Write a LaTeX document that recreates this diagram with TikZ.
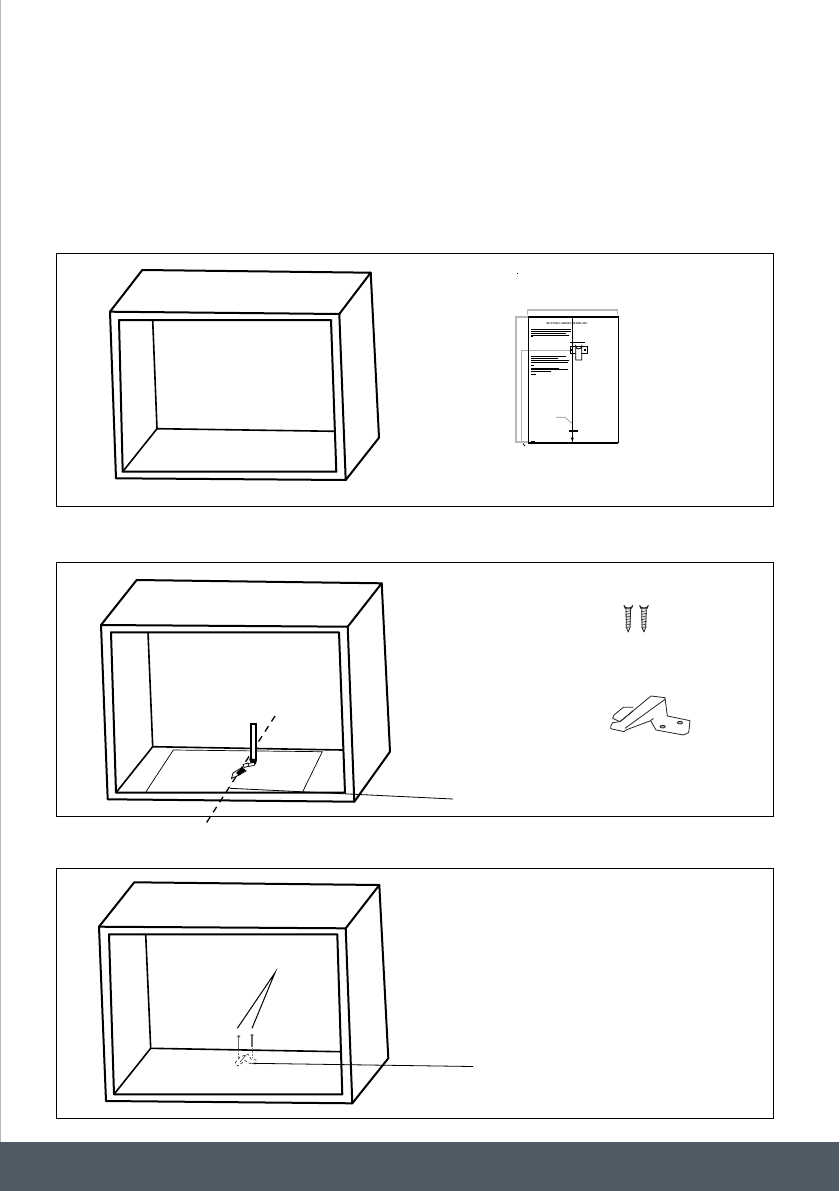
\documentclass[tikz,border=0pt]{standalone}
\usepackage{fontspec}
\setmainfont{Liberation Serif}
\tikzset{
  frame/.style={draw=black,line width=1pt},
  cabline/.style={draw=black,line width=2pt,line join=round,line cap=round},
  cabthin/.style={draw=black,line width=1.6pt,line cap=round},
  thinline/.style={draw=black,line width=.7pt},
  leader/.style={draw=black,line width=.8pt},
  axisline/.style={draw=black,line width=1.3pt,dash pattern=on 6.5pt off 5.5pt},
  greek/.style={draw=black,line width=.75pt,dash pattern=on 1.6pt off .4pt},
  dimgray/.style={draw=black!28,line width=2pt},
  dimthin/.style={draw=black!30,line width=1pt},
  tplate/.style={draw=black,line width=1.1pt},
  part/.style={draw=black!85,line width=.8pt,line join=round},
}
\newcommand{\cabdraw}[1]{%
  \draw[cabline] (#1otl) -- (#1otr) -- (#1obr) -- (#1obl) -- cycle;
  \draw[cabline] (#1otl) -- (#1btl) -- (#1btr) -- (#1otr);
  \draw[cabline] (#1btr) -- (#1bbr) -- (#1obr);
  \draw[cabline] (#1itl) -- (#1itr) -- (#1ibr) -- (#1ibl) -- cycle;
  \draw[cabthin] (#1ibl) -- (#1wbl) -- (#1wtl);
  \draw[cabthin] (#1wbl) -- (#1wbr);
}
\begin{document}
\begin{tikzpicture}[x=1pt,y=-1pt]
\useasboundingbox (0,0) rectangle (839,1191);
\fill[black!28] (0,0) rectangle (1.2,1142);
\fill[white] (1.2,0) rectangle (839,1142);
\fill[fill={rgb,255:red,80;green,91;blue,102}] (0,1142) rectangle (839,1191);

\draw[frame] (56,253) rectangle (773,506);
\draw[frame] (56,562) rectangle (773,816);
\draw[frame] (56,868) rectangle (773,1118);

% ---------- cabinet A
\coordinate (aotl) at (110,311.7); \coordinate (aotr) at (339.3,314);
\coordinate (aobr) at (345.7,480); \coordinate (aobl) at (116,478.3);
\coordinate (abtl) at (142.3,270); \coordinate (abtr) at (370.7,272.7);
\coordinate (abbr) at (379,437.7);
\coordinate (aitl) at (119,320);   \coordinate (aitr) at (331,320);
\coordinate (aibr) at (336.3,471.7); \coordinate (aibl) at (122.7,471.7);
\coordinate (awtl) at (152.7,320); \coordinate (awbl) at (157,428.7);
\coordinate (awbr) at (335,431.3);
\cabdraw{a}

% ---------- template sheet
\fill[black] (517,272.5) rectangle (517.8,274);
\draw[dimgray,line width=1.3pt] (527.3,315) -- (527.3,310) -- (617.3,310) -- (617.3,315);
\draw[dimgray] (528,316.7) -- (516.3,316.7) -- (516.3,442.3) -- (528,442.3);
\draw[dimthin] (570,350) -- (521.7,350) -- (521.7,442);
\draw[dimthin] (556,417.3) -- (565,417.3) -- (571.7,423.3);
\draw[tplate] (528.3,316.7) rectangle (618.3,442.7);
\draw[tplate,line width=1.7pt] (528.3,316.7) -- (618.3,316.7);
\draw[tplate,line width=1.7pt] (528.3,442.7) -- (618.3,442.7);
\draw[tplate] (572.3,316.7) -- (572.3,442.7);
\node[inner sep=0pt,font=\fontsize{2.7}{3}\selectfont\bfseries] (tptitle) at (567,323.5) {BOTTOM CABINET TEMPLATE};
\foreach \yy/\xe in {329.5/570.5,331.3/570.5,333/566,335/569,336.8/533}
  \draw[greek] (531,\yy) -- (\xe,\yy);
\foreach \yy/\xe in {356.8/566,358.6/558,360.4/569,362.2/568,365/534,368/559,369.8/568,371.6/551,374.5/536}
  \draw[greek] (531,\yy) -- (\xe,\yy);
\draw[draw=black,line width=.7pt] (570,342.3) -- (585,342.3);
\draw[draw=black,line width=.8pt] (570,346.7) rectangle (587.3,353.3);
\draw[draw=black,line width=.8pt,fill=white] (575.7,360) -- (575.7,346) arc[start angle=180,end angle=0,radius=3] -- (581.7,360) -- cycle;
\fill[black] (571,349) rectangle (573,351); \fill[black] (584,349) rectangle (586,351);
\draw[draw=black,line width=1.1pt,dash pattern=on 1.5pt off .4pt] (568.5,431) -- (578,431);
\fill[black] (570.6,437.5) -- (574,437.5) -- (572.3,441) -- cycle;
\draw[draw=black,line width=.8pt] (531,441) -- (535,441);
\draw[draw=black,line width=.8pt] (523,443.7) -- (525,446);

% ---------- cabinet B
\coordinate (botl) at (101,625);   \coordinate (botr) at (347.7,626.7);
\coordinate (bobr) at (354.3,801.7); \coordinate (bobl) at (107.7,799.3);
\coordinate (bbtl) at (136.7,580); \coordinate (bbtr) at (381.7,583.3);
\coordinate (bbbr) at (390,751.7);
\coordinate (bitl) at (111,632.3); \coordinate (bitr) at (339,632.3);
\coordinate (bibr) at (345,792.7); \coordinate (bibl) at (116,792.7);
\coordinate (bwtl) at (148,632.3); \coordinate (bwbl) at (152.7,746.7);
\coordinate (bwbr) at (342.3,750);
% template on floor
\coordinate (fa) at (173.3,750); \coordinate (fb) at (146,791.7);
\coordinate (fc) at (322.3,751.7); \coordinate (fd) at (302.7,791.7);
\draw[thinline] (fb) -- (fa) -- (fc) -- (fd);
\cabdraw{b}
% centre axis
\coordinate (axa) at (275,716); \coordinate (axb) at (205,825);
\draw[axisline] (axa) -- (axb);
% leader
\coordinate (lbs) at (230,788.3); \coordinate (lbe) at (453,799);
\draw[leader] (lbs) -- (lbe);
% marks on axis
\draw[draw=black,line width=2pt,fill=white] (251,724) rectangle (256,760);
\fill[black] (249,758.5) -- (257,759) -- (256,764) -- (251,764) -- cycle;
\draw[draw=black,line width=.7pt,fill=white] (243,764.5) -- (248,763) -- (249,766) -- (244,767.5) -- cycle;
\draw[draw=black,line width=.7pt,fill=white] (248,763.5) -- (254,762.5) -- (255,765) -- (249,766.5) -- cycle;
\draw[draw=black,line width=.8pt,fill=white] (231.5,778.5) -- (233,773) -- (242,767.5) -- (246,771) -- (238,775.5) -- cycle;
\fill[black] (236,773) -- (242,767.5) -- (245.5,770.5) -- (239,775.5) -- cycle;

% ---------- screws (parts)
\begin{scope}[shift={(590,590)},x=.3333pt,y=-.3333pt]
  \foreach \sx in {115,162} {
    \draw[part,fill=black!10] (\sx-13,46) arc[start angle=180,end angle=0,x radius=13,y radius=8] -- (\sx+10,55) -- (\sx-10,55) -- cycle;
    \draw[part,fill=black!10] (\sx-7,55) -- (\sx-6,112) -- (\sx,126) -- (\sx+5,112) -- (\sx+7,55) -- cycle;
    \foreach \ty in {62,70,...,112}
      \draw[part,line width=.5pt] (\sx-8,\ty+3) -- (\sx+8,\ty);
  }
  \draw[part] (62,408) -- (68,398) -- (90,395) -- (183,318) -- (225,323) -- (232,378) -- (300,392) -- (296,428) -- (280,435) -- (198,420) -- (182,392) -- (108,420) -- (102,425) -- (62,416) -- cycle;
  \draw[part] (225,328) -- (105,415);
  \draw[part] (182,392) -- (190,385);
  \draw[part] (90,395) -- (130,362);
  \draw[part] (72,375) -- (100,352) -- (130,352);
  \draw[part] (72,375) -- (68,385) -- (90,395);
  \draw[part,fill=black!30] (218,410) ellipse[x radius=8,y radius=4];
  \draw[part,fill=black!30] (270,398) ellipse[x radius=8,y radius=4];
\end{scope}

% ---------- cabinet C
\coordinate (cotl) at (99,926.7);  \coordinate (cotr) at (345.7,928.3);
\coordinate (cobr) at (352.3,1103.3); \coordinate (cobl) at (106,1101);
\coordinate (cbtl) at (134.3,882.3); \coordinate (cbtr) at (379.3,885);
\coordinate (cbbr) at (388.3,1058.3);
\coordinate (citl) at (109,934.3); \coordinate (citr) at (337.3,934.3);
\coordinate (cibr) at (342.3,1094.3); \coordinate (cibl) at (114,1094.3);
\coordinate (cwtl) at (145.7,934.3); \coordinate (cwbl) at (150.7,1048.3);
\coordinate (cwbr) at (340,1051.7);
\cabdraw{c}
% screw leaders
\coordinate (sh) at (275,972.7); \coordinate (sa) at (237.3,1028.3); \coordinate (sb) at (252,1028.3);
\draw[draw=black,line width=1pt] (sa) -- (sh) -- (sb);
% screws in place
\foreach \sx/\sy in {238.7/1036.5,252/1035.3} {
  \fill[black!60] (\sx,\sy) circle[radius=1.7];
  \draw[draw=black!60,line width=1.3pt] (\sx,\sy) -- (\sx,\sy+12);
  \draw[draw=black!50,line width=.5pt,dash pattern=on 2pt off 1pt] (\sx,\sy+13) -- (\sx,1058);
}
% bracket
\draw[part,fill=white,line width=.6pt,densely dashed] (235,1063) -- (240,1057) -- (248,1054) -- (251,1059) -- (256,1060) -- (255,1064) -- (250,1063.5) -- (245,1060.5) -- (238,1066) -- cycle;
\draw[part,line width=.5pt] (240,1062) -- (246,1055);
\coordinate (lcs) at (251.7,1063.3); \coordinate (lce) at (473,1066.5);
\draw[leader] (lcs) -- (lce);
\end{tikzpicture}
\end{document}
